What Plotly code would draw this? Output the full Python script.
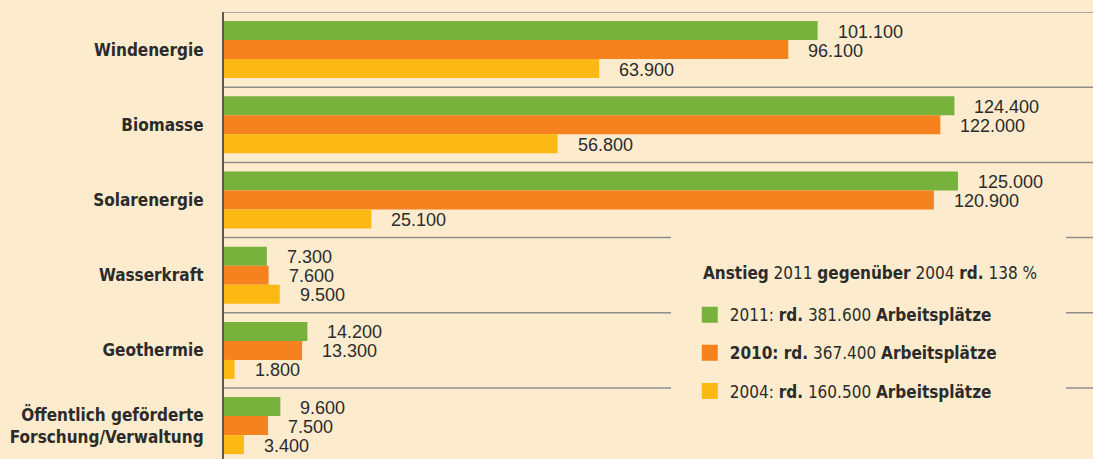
import plotly.graph_objects as go

categories = ["Windenergie", "Biomasse", "Solarenergie", "Wasserkraft", "Geothermie",
              "Öffentlich geförderte<br>Forschung/Verwaltung"]
jobs_2011 = [101100, 124400, 125000, 7300, 14200, 9600]
jobs_2010 = [96100, 122000, 120900, 7600, 13300, 7500]
jobs_2004 = [63900, 56800, 25100, 9500, 1800, 3400]
series_names = ["2011", "2010", "2004"]
legend_labels = [
    "2011: <b>rd.</b> 381.600 <b>Arbeitsplätze</b>",
    "<b>2010: rd.</b> 367.400 <b>Arbeitsplätze</b>",
    "2004: <b>rd.</b> 160.500 <b>Arbeitsplätze</b>",
]
legend_title = "<b>Anstieg</b> 2011 <b>gegenüber</b> 2004 <b>rd.</b> 138 %"

series_values = [jobs_2011, jobs_2010, jobs_2004]
colors = ["#77B23C", "#F5821F", "#FDB913"]
BG = "#FDEBCD"
LABEL_FONT = "DejaVu Sans Condensed, Liberation Sans Narrow, sans-serif"
VALUE_FONT = "Liberation Sans Narrow, Liberation Sans, Arial, sans-serif"

fig = go.Figure()
for name, vals, col in zip(series_names, series_values, colors):
    fig.add_trace(go.Bar(y=categories, x=vals, orientation="h", name=name,
                         marker=dict(color=col, line=dict(width=0)), showlegend=False))

# legend entries
for name, lab, col in zip(series_names, legend_labels, colors):
    fig.add_trace(go.Scatter(x=[None], y=[None], mode="markers", name=lab, legendgroup=name,
                             marker=dict(symbol="square", size=17, color=col), showlegend=True))

annotations = []
shifts = [19, 0, -19]
for vals, sh in zip(series_values, shifts):
    for cat, v in zip(categories, vals):
        annotations.append(dict(x=v, y=cat, xref="x", yref="y", text=f"{v:,}".replace(",", "."),
                                showarrow=False, xanchor="left", yanchor="middle", xshift=18, yshift=sh - 1,
                                font=dict(family=VALUE_FONT, size=18, color="#2b2b2b")))
annotations.append(dict(x=0.549, y=0.416, xref="paper", yref="paper", text=legend_title, showarrow=False,
                        xanchor="left", yanchor="middle",
                        font=dict(family=LABEL_FONT, size=17, color="#2b2b2b")))

shapes = []
for i in range(len(categories)):
    shapes.append(dict(type="line", xref="paper", x0=0, x1=1, yref="y", y0=i - 0.5, y1=i - 0.5,
                       line=dict(color="#8e8e8e", width=1.5), layer="above"))
shapes.append(dict(type="rect", xref="paper", x0=0.5144, x1=0.969, yref="paper", y0=0, y1=0.503,
                   fillcolor=BG, line=dict(width=0), layer="above"))

fig.update_layout(
    width=1093, height=459,
    margin=dict(l=224, r=0, t=12, b=0),
    paper_bgcolor=BG, plot_bgcolor=BG,
    barmode="group", bargap=0.242, bargroupgap=0,
    xaxis=dict(range=[0, 148000], showgrid=False, zeroline=False, showticklabels=False, showline=False),
    yaxis=dict(categoryorder="array", categoryarray=categories, range=[5.444, -0.5],
               showgrid=False, zeroline=False, showline=True, linecolor="#5a5a5a", linewidth=2,
               ticks="outside", ticklen=15, tickcolor="rgba(0,0,0,0)",
               tickfont=dict(family=LABEL_FONT, size=17, color="#2b2b2b", weight=600)),
    legend=dict(x=0.536, y=0.362, xanchor="left", yanchor="top", bgcolor="rgba(0,0,0,0)",
                traceorder="grouped", tracegroupgap=13,
                font=dict(family=LABEL_FONT, size=17, color="#2b2b2b")),
    annotations=annotations, shapes=shapes,
    showlegend=True,
)
fig.write_html("out.html", config={"displayModeBar": False},
               post_script="document.body.style.margin='0';document.body.style.padding='0';")
